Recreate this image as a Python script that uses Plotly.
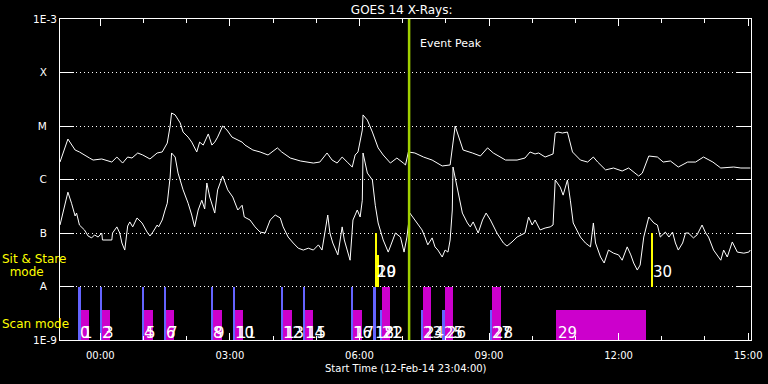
import numpy as np
import pandas as pd
import plotly.graph_objects as go

T0 = pd.Timestamp("2014-02-13 00:00:00")   # minutes below are counted from this instant
X_START_MIN, X_END_MIN = -56, 904            # 12-Feb-14 23:04 -> 13-Feb-14 15:04

# ---------------- GOES 14 long channel (1-8 A), W/m^2 ----------------
long_min = [-56, -45, -35, -29, -15, -10, 2, 16, 23, 31,
            38, 44, 52, 59, 69, 79, 86, 93, 97, 99,
            104, 111, 115, 122, 127, 134, 138, 143, 150, 155,
            159, 163, 170, 176, 183, 190, 197, 201, 212, 222,
            233, 246, 252, 264, 278, 296, 305, 315, 322, 329,
            336, 343, 350, 354, 358, 364, 365, 371, 378, 386,
            393, 403, 412, 421, 424, 428, 437, 449, 461, 475,
            486, 493, 500, 504, 517, 528, 538, 546, 563, 579,
            590, 597, 604, 609, 618, 629, 632, 636, 642, 649,
            656, 667, 677, 685, 691, 702, 713, 725, 734, 748,
            753, 762, 774, 782, 792, 803, 816, 827, 838, 851,
            862, 880, 890, 903]
long_flux = [2.12e-6, 5.7e-6, 3.56e-6, 3.27e-6, 2.52e-6, 2.31e-6, 2.42e-6, 2.12e-6, 2.63e-6, 2.03e-6,
             2.63e-6, 2.52e-6, 3.13e-6, 2.87e-6, 2.42e-6, 3.13e-6, 3.27e-6, 4.8e-6, 1.0e-5, 1.75e-5,
             1.61e-5, 1.14e-5, 7.7e-6, 6.2e-6, 5.0e-6, 3.27e-6, 5.0e-6, 4.4e-6, 7.1e-6, 4.4e-6,
             5.0e-6, 6.2e-6, 1.0e-5, 8.4e-6, 6.2e-6, 5.5e-6, 5.0e-6, 4.4e-6, 3.56e-6, 3.27e-6,
             2.87e-6, 3.9e-6, 3.27e-6, 2.52e-6, 2.22e-6, 2.03e-6, 2.12e-6, 3.13e-6, 2.31e-6, 2.03e-6,
             2.63e-6, 2.12e-6, 1.71e-6, 2.87e-6, 3.27e-6, 8.4e-6, 1.61e-5, 1.29e-5, 7.7e-6, 3.9e-6,
             2.87e-6, 2.03e-6, 2.52e-6, 2.03e-6, 1.87e-6, 3.27e-6, 3.13e-6, 2.63e-6, 2.31e-6, 1.79e-6,
             1.87e-6, 1.0e-5, 5.5e-6, 3.56e-6, 3.13e-6, 2.75e-6, 3.9e-6, 3.13e-6, 2.31e-6, 2.31e-6,
             2.52e-6, 3.27e-6, 3.0e-6, 3.13e-6, 2.63e-6, 3.0e-6, 7.4e-6, 7.7e-6, 7.4e-6, 7.7e-6,
             3.27e-6, 2.31e-6, 2.12e-6, 2.63e-6, 2.12e-6, 1.51e-6, 1.64e-6, 1.44e-6, 1.64e-6, 1.16e-6,
             1.32e-6, 2.75e-6, 2.63e-6, 2.12e-6, 2.22e-6, 1.71e-6, 2.12e-6, 2.12e-6, 2.63e-6, 2.12e-6,
             1.64e-6, 1.71e-6, 1.64e-6, 1.64e-6]

# ---------------- GOES 14 short channel (0.5-4 A), W/m^2 ----------------
short_min = [-56, -49, -45, -40, -35, -33, -29, -22, -17, -12,
             -8, -3, 2, 3, 9, 16, 17, 23, 27, 30,
             34, 38, 41, 45, 51, 58, 65, 69, 73, 79,
             81, 86, 90, 93, 97, 99, 104, 108, 115, 122,
             127, 131, 136, 141, 145, 148, 152, 156, 159, 163,
             170, 177, 184, 191, 197, 200, 208, 215, 222, 229,
             236, 243, 250, 254, 261, 268, 275, 282, 289, 296,
             303, 308, 312, 316, 319, 323, 330, 336, 339, 343,
             347, 351, 357, 361, 364, 365, 371, 378, 382, 386,
             393, 400, 405, 410, 417, 422, 426, 430, 437, 447,
             451, 455, 461, 465, 469, 475, 479, 483, 486, 489,
             490, 497, 503, 510, 514, 518, 525, 531, 536, 542,
             551, 560, 565, 572, 579, 590, 595, 600, 604, 611,
             618, 625, 629, 632, 639, 643, 649, 653, 657, 667,
             674, 681, 685, 688, 695, 700, 706, 713, 720, 725,
             732, 737, 741, 746, 750, 755, 762, 769, 774, 778,
             785, 790, 795, 799, 803, 809, 813, 817, 824, 829,
             836, 841, 845, 852, 862, 866, 871, 878, 885, 894,
             901, 903]
short_flux = [1.41e-7, 3.6e-7, 5.8e-7, 3.6e-7, 2.08e-7, 2.36e-7, 1.41e-7, 1.14e-7, 8.8e-8, 8.1e-8,
              9.2e-8, 8.4e-8, 1.0e-7, 7.4e-8, 7.4e-8, 7.4e-8, 1.0e-7, 1.3e-7, 1.0e-7, 6.5e-8,
              4.8e-8, 1.35e-7, 1.61e-7, 1.3e-7, 1.91e-7, 1.54e-7, 1.04e-7, 8.8e-8, 1.04e-7, 1.41e-7,
              1.3e-7, 1.75e-7, 2.69e-7, 3.6e-7, 1.11e-6, 3.13e-6, 2.63e-6, 1.32e-6, 6.4e-7, 3.6e-7,
              2.17e-7, 1.3e-7, 2.69e-7, 4.1e-7, 2.81e-7, 8.6e-7, 4.7e-7, 3.06e-7, 2.36e-7, 6.4e-7,
              1.16e-6, 6.4e-7, 4.7e-7, 2.69e-7, 3.3e-7, 1.99e-7, 1.75e-7, 1.3e-7, 1.04e-7, 1.0e-7,
              1.75e-7, 2.17e-7, 1.91e-7, 1.3e-7, 8.4e-8, 6.5e-8, 5.2e-8, 4.8e-8, 5.2e-8, 4.8e-8,
              6.0e-8, 4.8e-8, 1.0e-7, 2.17e-7, 1.0e-7, 6.5e-8, 3.9e-8, 1.3e-7, 7.4e-8, 4.8e-8,
              3.1e-8, 1.75e-7, 2.69e-7, 1.99e-7, 4.1e-7, 3.13e-6, 1.32e-6, 9.8e-7, 3.3e-7, 1.54e-7,
              7.4e-8, 4.4e-8, 6.5e-8, 1.0e-7, 8.4e-8, 4.4e-8, 8.4e-8, 2.36e-7, 1.75e-7, 1.14e-7,
              8.4e-8, 6.0e-8, 8.1e-8, 5.5e-8, 4.8e-8, 3.56e-8, 4.8e-8, 4.4e-8, 7.4e-8, 2.69e-7,
              1.71e-6, 5.6e-7, 2.36e-7, 1.54e-7, 1.3e-7, 1.61e-7, 1.0e-7, 1.75e-7, 2.36e-7, 1.75e-7,
              1.0e-7, 6.5e-8, 5.7e-8, 6.8e-8, 8.4e-8, 1.0e-7, 1.99e-7, 1.41e-7, 1.75e-7, 1.14e-7,
              1.24e-7, 1.3e-7, 1.41e-7, 9.8e-7, 7.2e-7, 5.1e-7, 9.8e-7, 4.1e-7, 1.54e-7, 8.4e-8,
              6.5e-8, 5.5e-8, 1.54e-7, 6.5e-8, 3.56e-8, 2.75e-8, 4.8e-8, 4.2e-8, 3.9e-8, 3.1e-8,
              5.5e-8, 3.9e-8, 2.75e-8, 2.03e-8, 2.52e-8, 8.4e-8, 1.99e-7, 1.54e-7, 1.41e-7, 8.4e-8,
              1.04e-7, 8.4e-8, 1.04e-7, 6.5e-8, 4.8e-8, 6.5e-8, 1.0e-7, 1.0e-7, 8.1e-8, 9.2e-8,
              1.41e-7, 1.0e-7, 8.4e-8, 4.8e-8, 3.1e-8, 4.8e-8, 3.56e-8, 6.8e-8, 4.4e-8, 4.2e-8,
              4.4e-8, 4.8e-8]

# ---------------- observation timeline ----------------
# scan-mode observations drawn in blue
blue_ids = [0, 2, 4, 6, 8, 10, 12, 14, 16, 18, 21, 23, 25, 27]
blue_start = [-31.3, -0.7, 57.7, 88.3, 153.7, 184.3, 251.1, 281.7, 348.5, 379.0, 388.8, 445.8, 475.0, 541.8]
blue_end = [-27.1, 2.1, 60.5, 91.1, 156.5, 187.1, 253.9, 284.5, 351.3, 383.2, 391.6, 448.6, 479.2, 544.6]
blue_top = [1e-8, 1e-8, 1e-8, 1e-8, 1e-8, 1e-8, 1e-8, 1e-8, 1e-8, 1e-8, 3.6e-9, 3.6e-9, 3.6e-9, 3.6e-9]

# scan-mode observations drawn in magenta
mag_ids = [1, 3, 5, 7, 9, 11, 13, 15, 17, 22, 24, 26, 28, 29]
mag_start = [-27.1, 2.1, 60.5, 91.1, 156.5, 187.1, 253.9, 284.5, 351.3, 391.6, 448.6, 479.2, 544.6, 633.6]
mag_end = [-16.0, 13.2, 73.0, 102.2, 169.0, 198.2, 266.4, 295.6, 363.8, 402.7, 459.7, 490.4, 557.1, 758.8]
mag_top = [3.6e-9, 3.6e-9, 3.6e-9, 3.6e-9, 3.6e-9, 3.6e-9, 3.6e-9, 3.6e-9, 3.6e-9, 1e-8, 1e-8, 1e-8, 1e-8, 3.6e-9]

# sit & stare observations (yellow)
sit_ids = [19, 20, 30]
sit_start = [381.8, 381.8, 765.7]
sit_end = [384.6, 387.4, 767.1]
sit_top = [1e-7, 3.9e-8, 1e-7]

event_peak_min = 429          # 07:09
SCAN_BASE, SIT_BASE, Y_MIN, Y_MAX = 1e-9, 1e-8, 1e-9, 1e-3

ytick_vals = [1e-9, 1e-8, 1e-7, 1e-6, 1e-5, 1e-4, 1e-3]
ytick_text = ["1E-9", "A", "B", "C", "M", "X", "1E-3"]


def tm(m):
    return T0 + pd.to_timedelta(np.asarray(m, dtype=float), unit="m")


FONT = "DejaVu Sans"
BLUE, MAGENTA, YELLOW, GREEN = "#6464ff", "#cc00cc", "#ffff00", "#a0d000"

fig = go.Figure()

fig.add_trace(go.Scatter(x=tm(long_min), y=long_flux, mode="lines",
                         line=dict(color="white", width=1), hoverinfo="skip"))
fig.add_trace(go.Scatter(x=tm(short_min), y=short_flux, mode="lines",
                         line=dict(color="white", width=1), hoverinfo="skip"))


def add_bars(starts, ends, tops, base, color):
    s = np.asarray(starts, float)
    e = np.asarray(ends, float)
    mid = (s + e) / 2
    fig.add_trace(go.Bar(x=tm(mid), y=np.asarray(tops) - base, base=base,
                         width=(e - s) * 60000.0, marker=dict(color=color, line=dict(width=0)),
                         hoverinfo="skip"))


add_bars(mag_start, mag_end, mag_top, SCAN_BASE, MAGENTA)
add_bars(blue_start, blue_end, blue_top, SCAN_BASE, BLUE)
add_bars(sit_start, sit_end, sit_top, SIT_BASE, YELLOW)

# event peak line
fig.add_trace(go.Scatter(x=tm([event_peak_min, event_peak_min]), y=[Y_MIN, Y_MAX], mode="lines",
                         line=dict(color=GREEN, width=2.5), hoverinfo="skip"))

annotations = []
scan_label_y = -8.86
sit_label_y = -7.73
for ids, starts, ly in [(blue_ids, blue_start, scan_label_y), (mag_ids, mag_start, scan_label_y),
                        (sit_ids, sit_start, sit_label_y)]:
    for i, s in zip(ids, starts):
        annotations.append(dict(x=tm([s])[0], y=ly, xref="x", yref="y", text=str(i),
                                showarrow=False, xanchor="left", yanchor="middle",
                                font=dict(family=FONT, size=15, color="white")))

annotations.append(dict(x=tm([event_peak_min])[0], y=-3.45, xref="x", yref="y", text="Event Peak",
                        showarrow=False, xanchor="left", yanchor="middle", xshift=9,
                        font=dict(family=FONT, size=11, color="white")))
for txt, yy in [("Sit & Stare", -7.48), ("\u00a0\u00a0mode", -7.72), ("Scan mode", -8.70)]:
    annotations.append(dict(x=-0.087, y=yy, xref="paper", yref="y", text=txt, showarrow=False,
                            xanchor="left", yanchor="middle",
                            font=dict(family=FONT, size=12, color=YELLOW)))
annotations.append(dict(x=0.5, y=-0.065, xref="paper", yref="paper", yanchor="top",
                        text="Start Time (12-Feb-14 23:04:00)", showarrow=False,
                        font=dict(family=FONT, size=10, color="white")))

fig.update_layout(
    width=768, height=384,
    paper_bgcolor="black", plot_bgcolor="black",
    margin=dict(l=60, r=17, t=19, b=44, autoexpand=False),
    showlegend=False, barmode="overlay", bargap=0,
    font=dict(family=FONT, color="white", size=10),
    title=dict(text="GOES 14 X-Rays:", x=0.523, xanchor="center", y=0.974, yanchor="middle",
               font=dict(family=FONT, size=12, color="white")),
    annotations=annotations,
)

fig.update_xaxes(
    type="date", range=[tm([X_START_MIN])[0], tm([X_END_MIN])[0]],
    tickformat="%H:%M", tick0=T0, dtick=3 * 3600000,
    ticks="inside", ticklen=7, tickcolor="white", tickwidth=1,
    minor=dict(dtick=3600000, ticks="inside", ticklen=4, tickcolor="white", showgrid=False),
    showline=True, linecolor="white", linewidth=1, mirror="ticks",
    showgrid=False, zeroline=False, automargin=False, ticklabelstandoff=6,
    tickfont=dict(family=FONT, size=10, color="white"),
)
fig.update_yaxes(
    type="log", range=[-9, -3],
    tickvals=ytick_vals,
    ticktext=[t if len(t) > 1 else t + "\u00a0\u00a0\u00a0" for t in ytick_text],
    ticks="inside", ticklen=14, tickcolor="white", tickwidth=1,
    showline=True, linecolor="white", linewidth=1, mirror="ticks",
    showgrid=True, gridcolor="white", gridwidth=1, griddash="1px,3px",
    zeroline=False, automargin=False,
    tickfont=dict(family=FONT, size=10.5, color="white"),
)

fig.write_html("out.html", config={"displayModeBar": False},
               post_script="document.body.style.margin='0';document.body.style.background='black';")
